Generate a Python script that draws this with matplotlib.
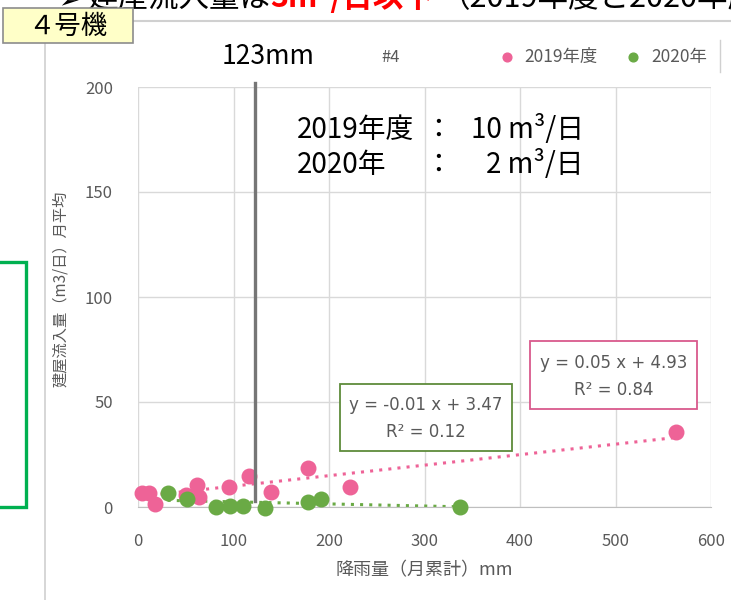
import matplotlib.pyplot as plt
from matplotlib.patches import Rectangle
from matplotlib.lines import Line2D
import numpy as np

plt.rcParams['font.family'] = ['Noto Sans CJK JP', 'DejaVu Sans']

# ==========================
# データ
# ==========================
SERIES = ["2019年度", "2020年"]

rain_2019 = [4.5, 11.5, 18, 50, 62, 64, 95, 116, 139, 178, 222, 563]
flow_2019 = [6.5, 6.5, 1.5, 5.7, 10.5, 5.0, 9.7, 14.8, 7.3, 18.7, 9.6, 35.5]

rain_2020 = [31, 51, 82, 96, 110, 133, 178, 192, 337]
flow_2020 = [6.5, 4.0, 0.0, 0.3, 0.3, -0.5, 2.5, 4.0, 0.2]

trend_2019 = (0.05, 4.93)     # y = a x + b
trend_2020 = (-0.01, 3.47)
r2_2019 = 0.84
r2_2020 = 0.12

rain_mark = 123               # mm
avg_2019 = 10                 # m3/日
avg_2020 = 2

x_ticks = [0, 100, 200, 300, 400, 500, 600]
y_ticks = [0, 50, 100, 150, 200]

PINK = "#EE6397"
GREEN = "#6AAA45"
GRAY_TXT = "#595959"
GRID = "#D9D9D9"

W, H = 731, 600


def fx(px):
    return px / W


def fy(py):
    return 1 - py / H


fig = plt.figure(figsize=(W / 100, H / 100), dpi=100)

# 枠線（スライド上のチャート枠）
fig.add_artist(Line2D([fx(45), fx(45)], [fy(43), fy(600)], color="#D0D0D0", lw=1.2))
fig.add_artist(Line2D([fx(133), fx(731)], [fy(21), fy(21)], color="#D0D0D0", lw=1.5))
fig.add_artist(Line2D([fx(720), fx(720)], [fy(40), fy(72)], color="#D0D0D0", lw=1.0))

# 上部の見切れた文
top_kw = dict(fontsize=22, va="baseline")
fig.text(fx(58), fy(7), "➢", color="black", fontsize=18, va="baseline",
         family=["DejaVu Sans"])
fig.text(fx(88), fy(7), "建屋流入量は", color="black", **top_kw)
fig.text(fx(270), fy(7), "3m³/日以下", color="red", fontweight="bold", **top_kw)
fig.text(fx(440), fy(7), "（2019年度と2020年度", color="black", **top_kw)

# 4号機ラベル
fig.add_artist(Rectangle((fx(3), fy(43)), fx(130), 35 / H, facecolor="#FFFFC8",
                         edgecolor="#8C8C8C", lw=1.2, zorder=5))
fig.text(fx(68), fy(26), "４号機", fontsize=19, ha="center", va="center",
         color="black", zorder=6)

# 左の緑枠
fig.add_artist(Rectangle((fx(-10), fy(507)), fx(36), 245 / H, facecolor="none",
                         edgecolor="#00B050", lw=2.4))

# ==========================
# 散布図
# ==========================
ax = fig.add_axes([fx(138), fy(507), fx(711 - 138), 420 / H])
ax.set_xlim(0, 600)
ax.set_ylim(0, 200)
ax.set_xticks(x_ticks)
ax.set_yticks(y_ticks)
ax.grid(True, color=GRID, lw=1)
ax.set_axisbelow(True)
for s in ["top", "right", "left"]:
    ax.spines[s].set_visible(False)
ax.spines["bottom"].set_color("#BFBFBF")
ax.tick_params(length=0, labelsize=12, labelcolor=GRAY_TXT)
ax.tick_params(axis="y", pad=18)
ax.tick_params(axis="x", pad=19)

ax.set_xlabel("降雨量（月累計）mm", fontsize=13, color=GRAY_TXT, labelpad=8)
ax.set_ylabel("建屋流入量（m3/日）月平均", fontsize=11, color=GRAY_TXT)
ax.yaxis.set_label_coords(-0.12, 0.52)

# 近似直線（点線）
for rain, (a, b), col in [(rain_2019, trend_2019, PINK), (rain_2020, trend_2020, GREEN)]:
    xs = np.array([min(rain), max(rain)])
    ax.plot(xs, a * xs + b, ls=(0, (1, 2)), color=col, lw=2.2, clip_on=False, zorder=2)

sc1 = ax.scatter(rain_2019, flow_2019, s=110, color=PINK, zorder=3, clip_on=False,
                 label=SERIES[0])
sc2 = ax.scatter(rain_2020, flow_2020, s=110, color=GREEN, zorder=3, clip_on=False,
                 label=SERIES[1])

# 123mm 縦線
ax.plot([rain_mark, rain_mark], [3, 202], color="#767676", lw=2.4, clip_on=False, zorder=4)
fig.text(fx(268), fy(57), f"{rain_mark}mm", fontsize=19, ha="center", va="center")

# タイトル・凡例
fig.text(fx(391), fy(58), "#4", fontsize=12, color=GRAY_TXT, ha="center", va="center")
leg = fig.legend(handles=[sc1, sc2], loc="center", bbox_to_anchor=(fx(598), fy(57)),
                 ncol=2, frameon=False, fontsize=12.5, handletextpad=0.05,
                 columnspacing=1.0, markerscale=0.6, labelcolor=GRAY_TXT,
                 borderaxespad=0)

# 平均流入量
line_y = [130, 165]
fs_avg = 20
fig.text(fx(297), fy(line_y[0]), "2019年度", fontsize=fs_avg, va="center")
fig.text(fx(297), fy(line_y[1]), "2020年", fontsize=fs_avg, va="center")
for yy in line_y:
    fig.text(fx(438), fy(yy), "：", fontsize=fs_avg, va="center", ha="center")
fig.text(fx(584), fy(line_y[0]), f"{avg_2019} m³/日", fontsize=fs_avg, va="center", ha="right")
fig.text(fx(584), fy(line_y[1]), f"{avg_2020} m³/日", fontsize=fs_avg, va="center", ha="right")


# 近似式ボックス
def eq_box(x0, y0, x1, y1, a, b, r2, col):
    fig.add_artist(Rectangle((fx(x0), fy(y1)), fx(x1 - x0), (y1 - y0) / H,
                             facecolor="white", edgecolor=col, lw=1.3))
    cx = fx((x0 + x1) / 2)
    h = y1 - y0
    fig.text(cx, fy(y0 + h * 0.32), f"y = {a:.2f} x + {b:.2f}", fontsize=12,
             color=GRAY_TXT, ha="center", va="center", family=["DejaVu Sans"])
    fig.text(cx, fy(y0 + h * 0.72), f"R² = {r2:.2f}", fontsize=12,
             color=GRAY_TXT, ha="center", va="center", family=["DejaVu Sans"])


eq_box(340, 384, 512, 451, *trend_2020, r2_2020, "#5E8B3A")
eq_box(530, 341, 697, 409, *trend_2019, r2_2019, "#D9598C")

fig.savefig("out.png", dpi=100)
